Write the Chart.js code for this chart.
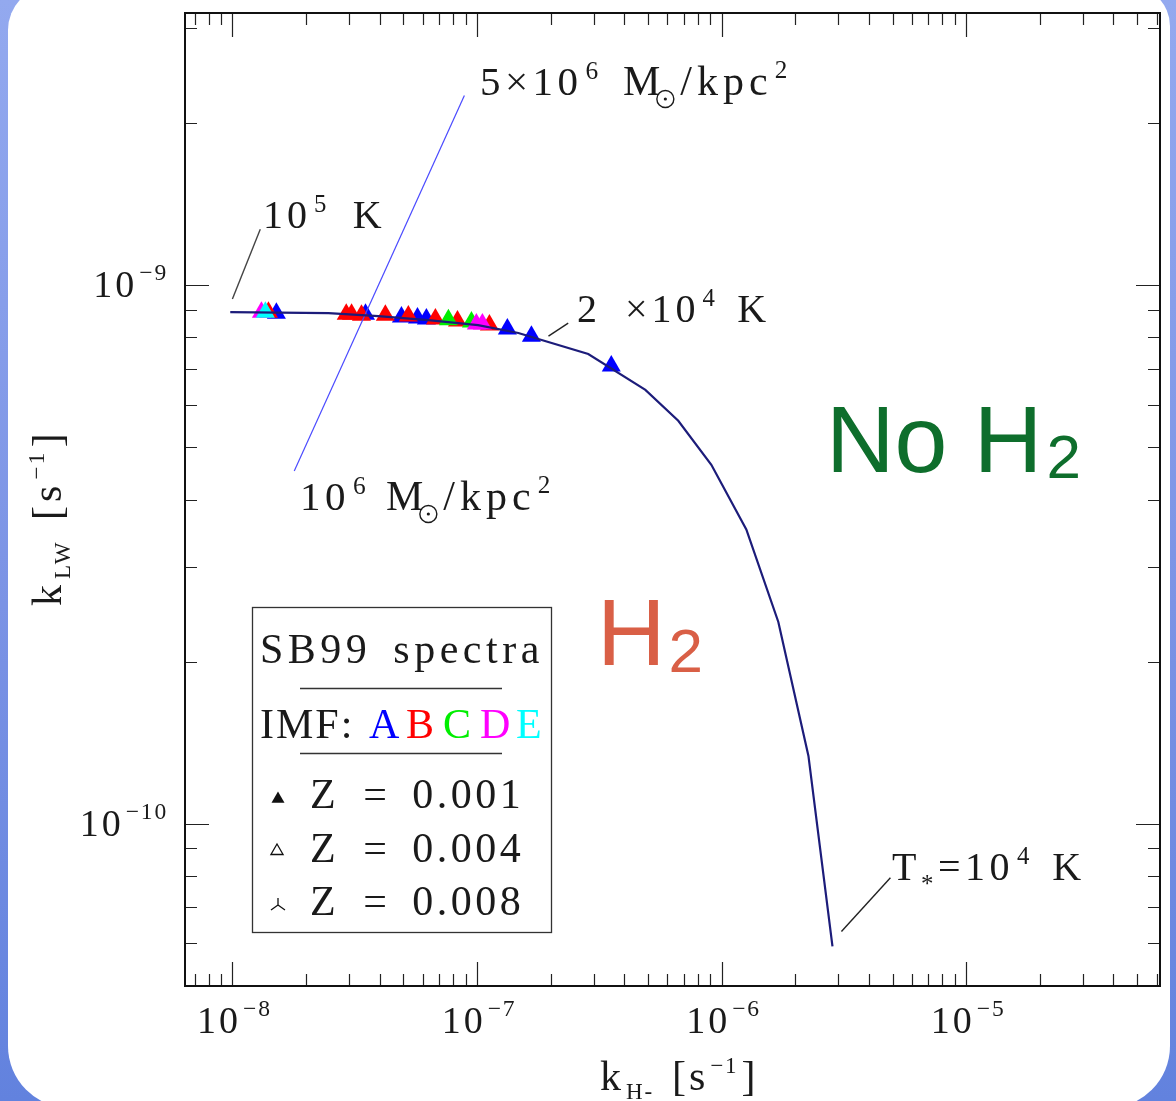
<!DOCTYPE html>
<html><head><meta charset="utf-8">
<script src="https://cdn.jsdelivr.net/npm/chart.js@4.4.0/dist/chart.umd.min.js"></script>
<style>
html,body{margin:0;padding:0;width:1176px;height:1101px;overflow:hidden;}
body{background:linear-gradient(180deg,#93a9ef 0%,#7b93e5 55%,#6282de 100%);position:relative;}
#panel{position:absolute;left:8px;top:-14px;width:1162px;height:1122px;background:#fff;border-radius:44px 40px 62px 62px;}
#wrap{position:absolute;left:0;top:0;width:1176px;height:1101px;}
</style></head><body><div id="panel"></div><div id="wrap"><canvas id="c" width="1176" height="1101"></canvas></div>
<script>
// ---- data ----
const curveX = [9.8e-9, 2.47e-8, 3.95e-8, 6.32e-8, 1.01e-7, 1.476e-7, 2.85e-7, 4.88e-7, 6.65e-7, 9.08e-7, 1.262e-6, 1.706e-6, 2.265e-6, 2.84e-6];
const curveY = [8.91e-10, 8.87e-10, 8.76e-10, 8.61e-10, 8.43e-10, 8.15e-10, 7.45e-10, 6.39e-10, 5.60e-10, 4.64e-10, 3.52e-10, 2.37e-10, 1.337e-10, 5.92e-11];

const imfAX = [1.513e-8, 3.50e-8, 4.91e-8, 5.71e-8, 6.21e-8, 1.331e-7, 1.669e-7, 3.54e-7];
const imfAY = [8.87e-10, 8.83e-10, 8.73e-10, 8.69e-10, 8.65e-10, 8.29e-10, 8.04e-10, 7.08e-10];
const imfBX = [1.404e-8, 2.92e-8, 3.07e-8, 3.37e-8, 4.22e-8, 5.24e-8, 6.76e-8, 8.32e-8, 1.124e-7];
const imfBY = [8.91e-10, 8.83e-10, 8.83e-10, 8.79e-10, 8.79e-10, 8.76e-10, 8.65e-10, 8.58e-10, 8.43e-10];
const imfCX = [7.64e-8, 9.49e-8];
const imfCY = [8.62e-10, 8.54e-10];
const imfDX = [1.314e-8, 9.94e-8, 1.052e-7];
const imfDY = [8.91e-10, 8.47e-10, 8.47e-10];
const imfEX = [1.364e-8];
const imfEY = [8.91e-10];

const surfLineX = [1.79e-8, 8.88e-8];
const surfLineY = [4.52e-10, 2.25e-9];
const lead1X = [1.0e-8, 1.30e-8], lead1Y = [9.42e-10, 1.27e-9];
const lead2X = [1.96e-7, 2.36e-7], lead2Y = [8.04e-10, 8.50e-10];
const lead3X = [3.09e-6, 4.90e-6], lead3Y = [6.31e-11, 7.94e-11];

const xDecades = [-8, -7, -6, -5];   // tick labels 10^-8 ... 10^-5
const yDecades = [-9, -10];          // tick labels 10^-9, 10^-10
const xRange = [6.4e-9, 6.2e-5];
const yRange = [5.0e-11, 3.2e-9];

const imfNames = ['A', 'B', 'C', 'D', 'E'];
const imfColors = ['#0000ff', '#ff0000', '#00ee00', '#ff00ff', '#00ffff'];
const zLabels = ['0.001', '0.004', '0.008'];

// ---- helpers ----
const pts = (xs, ys) => xs.map((x, i) => ({x, y: ys[i]}));
const SERIF = '"Liberation Serif","DejaVu Serif",serif';

function rich(ctx, x, y, segs, size, opt) {
  opt = opt || {};
  const fam = opt.family || SERIF;
  const ls = opt.ls || 0;
  const sc = opt.subScale || 0.62;
  ctx.save();
  ctx.fillStyle = opt.color || '#1a1a1a';
  ctx.textBaseline = 'alphabetic';
  ctx.textAlign = 'left';
  let total = 0;
  const items = segs.map(sg => {
    const [t, k, dx] = sg;
    const s = k === 0 ? size : size * sc;
    const font = (opt.weight || 'normal') + ' ' + s + 'px ' + fam;
    ctx.font = font;
    ctx.letterSpacing = (k === 0 ? ls : ls * 0.6) + 'px';
    const w = ctx.measureText(t).width;
    const it = {t, k, font, w, dx: dx || 0, ls: (k === 0 ? ls : ls * 0.6)};
    total += w + it.dx;
    return it;
  });
  let cx = opt.align === 'right' ? x - total : opt.align === 'center' ? x - total / 2 : x;
  for (const it of items) {
    cx += it.dx;
    ctx.font = it.font;
    ctx.letterSpacing = it.ls + 'px';
    const dy = it.k === 1 ? -size * (opt.supRaise || 0.40) : it.k === -1 ? size * (opt.subDrop || 0.25) : 0;
    ctx.fillText(it.t, cx, y + dy);
    cx += it.w;
  }
  ctx.restore();
  return total;
}

const framePlugin = {
  id: 'frame',
  afterDatasetsDraw(chart) {
    const ctx = chart.ctx, a = chart.chartArea;
    const xs = chart.scales.x, ys = chart.scales.y;
    ctx.save();
    // ticks
    ctx.strokeStyle = '#222';
    ctx.lineWidth = 1.2;
    const majL = 24, minL = 12;
    const tickVals = (min, max) => {
      const out = [];
      for (let e = Math.floor(Math.log10(min)); e <= Math.ceil(Math.log10(max)); e++) {
        for (let m = 1; m <= 9; m++) {
          const v = m * Math.pow(10, e);
          if (v >= min * 0.999 && v <= max * 1.001) out.push({v, major: m === 1});
        }
      }
      return out;
    };
    ctx.beginPath();
    for (const t of tickVals(xs.min, xs.max)) {
      const px = Math.round(xs.getPixelForValue(t.v)) + 0.5;
      const L = t.major ? majL : minL;
      ctx.moveTo(px, a.bottom); ctx.lineTo(px, a.bottom - L);
      ctx.moveTo(px, a.top); ctx.lineTo(px, a.top + L);
    }
    for (const t of tickVals(ys.min, ys.max)) {
      const py = Math.round(ys.getPixelForValue(t.v)) + 0.5;
      const L = t.major ? majL : minL;
      ctx.moveTo(a.left, py); ctx.lineTo(a.left + L, py);
      ctx.moveTo(a.right, py); ctx.lineTo(a.right - L, py);
    }
    ctx.stroke();
    // frame
    ctx.lineWidth = 2;
    ctx.strokeStyle = '#111';
    ctx.strokeRect(a.left, a.top, a.right - a.left, a.bottom - a.top);

    // tick labels
    for (const e of xDecades) {
      const px = xs.getPixelForValue(Math.pow(10, e));
      rich(ctx, px + 2, 1033, [['10', 0], ['\u2212' + (-e), 1, 2]], 38, {align: 'center', ls: 3, subScale: 0.62, supRaise: 0.44});
    }
    for (const e of yDecades) {
      const py = ys.getPixelForValue(Math.pow(10, e));
      rich(ctx, 168, py + 12, [['10', 0], ['\u2212' + (-e), 1, 2]], 38, {align: 'right', ls: 3, subScale: 0.62, supRaise: 0.44});
    }

    // axis titles
    rich(ctx, 600, 1090, [['k', 0], ['H-', -1, 2], ['[s', 0, 18], ['\u22121', 1, 2], [']', 0, 3]], 42, {ls: 3, subScale: 0.55, subDrop: 0.22, supRaise: 0.4});
    ctx.save();
    ctx.translate(61, 606);
    ctx.rotate(-Math.PI / 2);
    rich(ctx, 0, 0, [['k', 0], ['LW', -1, 2], ['[s', 0, 20], ['\u22121', 1, 2], [']', 0, 3]], 42, {ls: 4, subScale: 0.55, subDrop: 0.22, supRaise: 0.4});
    ctx.restore();

    // annotations
    const M = (x, y, s) => { // M with sun subscript
      ctx.save();
      ctx.fillStyle = '#1a1a1a';
      ctx.font = s + 'px ' + SERIF;
      ctx.letterSpacing = '0px';
      ctx.fillText('M', x, y);
      const w = ctx.measureText('M').width;
      ctx.strokeStyle = '#1a1a1a'; ctx.lineWidth = 1.4;
      ctx.beginPath(); ctx.arc(x + w + 5, y + 4, 8.5, 0, Math.PI * 2); ctx.stroke();
      ctx.beginPath(); ctx.arc(x + w + 5, y + 4, 1.6, 0, Math.PI * 2); ctx.fill();
      ctx.restore();
      return w + 18;
    };
    // 5x10^6 Msun/kpc^2
    rich(ctx, 480, 95, [['5\u00d710', 0], ['6', 1, 3]], 41, {ls: 4.5, subScale: 0.62});
    let mw = M(623, 95, 42);
    rich(ctx, 623 + mw + 2, 95, [['/kpc', 0], ['2', 1, 2]], 42, {ls: 5, subScale: 0.6});
    // 10^6 Msun/kpc^2
    rich(ctx, 300, 510, [['10', 0], ['6', 1, 3]], 41, {ls: 4.5, subScale: 0.62});
    mw = M(386, 510, 42);
    rich(ctx, 386 + mw + 2, 510, [['/kpc', 0], ['2', 1, 2]], 42, {ls: 5, subScale: 0.6});
    // 10^5 K
    rich(ctx, 263, 228, [['10', 0], ['5', 1, 3], ['K', 0, 24]], 40, {ls: 4, subScale: 0.62});
    // 2 x10^4 K
    rich(ctx, 577, 322, [['2', 0], ['\u00d710', 0, 24], ['4', 1, 3], ['K', 0, 20]], 40, {ls: 4, subScale: 0.62});
    // T* = 10^4 K
    rich(ctx, 892, 880, [['T', 0], ['*', -1, 0], ['=10', 0, 2], ['4', 1, 3], ['K', 0, 20]], 40, {ls: 4.5, subScale: 0.62, subDrop: 0.3});

    // region labels
    const SANS = '"Liberation Sans","Arial",sans-serif';
    ctx.save();
    ctx.fillStyle = '#0e6e2c';
    ctx.font = '95px ' + SANS;
    ctx.fillText('No H', 826, 472);
    let nw = ctx.measureText('No H').width;
    ctx.font = '62px ' + SANS;
    ctx.fillText('2', 826 + nw + 4, 478);
    ctx.fillStyle = '#d95f46';
    ctx.font = '95px ' + SANS;
    ctx.fillText('H', 597, 665);
    nw = ctx.measureText('H').width;
    ctx.font = '62px ' + SANS;
    ctx.fillText('2', 597 + nw + 3, 672);
    ctx.restore();

    // legend box
    ctx.save();
    ctx.strokeStyle = '#333'; ctx.lineWidth = 1.3;
    ctx.strokeRect(252.5, 607.5, 299, 325);
    ctx.beginPath();
    ctx.moveTo(300, 688.5); ctx.lineTo(502, 688.5);
    ctx.moveTo(300, 753.5); ctx.lineTo(502, 753.5);
    ctx.stroke();
    ctx.restore();
    rich(ctx, 260, 663, [['SB99', 0], ['spectra', 0, 22]], 42, {ls: 4.5});
    rich(ctx, 260, 738, [['IMF:', 0]], 42, {ls: 2});
    const imfX = [369, 406, 443, 480, 516];
    imfNames.forEach((n, i) => rich(ctx, imfX[i], 738, [[n, 0]], 42, {color: imfColors[i]}));
    const rowY = [808, 862, 915];
    zLabels.forEach((z, i) => {
      rich(ctx, 310, rowY[i], [['Z', 0], ['=', 0, 24], [z, 0, 22]], 42, {ls: 3.5});
    });
    // legend markers
    ctx.save();
    ctx.fillStyle = '#111'; ctx.strokeStyle = '#111'; ctx.lineWidth = 1.3;
    const tri = (cx, cy, r) => {
      ctx.beginPath();
      ctx.moveTo(cx, cy - r); ctx.lineTo(cx + r * 0.866, cy + r * 0.5); ctx.lineTo(cx - r * 0.866, cy + r * 0.5); ctx.closePath();
    };
    tri(278, 799, 7.5); ctx.fill();
    tri(277, 851, 7); ctx.stroke();
    ctx.beginPath();
    ctx.moveTo(278, 905); ctx.lineTo(278, 898);
    ctx.moveTo(278, 905); ctx.lineTo(271, 910);
    ctx.moveTo(278, 905); ctx.lineTo(285, 910);
    ctx.stroke();
    ctx.restore();
    ctx.restore();
  }
};

const imfSets = [[imfAX, imfAY], [imfBX, imfBY], [imfCX, imfCY], [imfDX, imfDY], [imfEX, imfEY]];
const datasets = [
  {type: 'line', data: pts(curveX, curveY), borderColor: '#1c1c7a', borderWidth: 2.2, pointRadius: 0, tension: 0, order: 0, fill: false},
  {type: 'line', data: pts(surfLineX, surfLineY), borderColor: '#4a4aff', borderWidth: 1.2, pointRadius: 0, order: 1, fill: false},
  {type: 'line', data: pts(lead1X, lead1Y), borderColor: '#444', borderWidth: 1.4, pointRadius: 0, order: 1, fill: false},
  {type: 'line', data: pts(lead2X, lead2Y), borderColor: '#222', borderWidth: 1.4, pointRadius: 0, order: 1, fill: false},
  {type: 'line', data: pts(lead3X, lead3Y), borderColor: '#222', borderWidth: 1.4, pointRadius: 0, order: 1, fill: false},
];
imfSets.forEach(([xs, ys], i) => {
  datasets.push({type: 'scatter', data: pts(xs, ys), pointStyle: 'triangle', pointRadius: 11, pointBackgroundColor: imfColors[i], pointBorderWidth: 0, borderColor: imfColors[i], order: 6 - i});
});

new Chart(document.getElementById('c'), {
  type: 'scatter',
  data: {datasets},
  options: {
    responsive: false,
    animation: false,
    devicePixelRatio: 1,
    layout: {padding: {left: 185, right: 16, top: 13, bottom: 115}},
    plugins: {legend: {display: false}, tooltip: {enabled: false}},
    scales: {
      x: {type: 'logarithmic', min: xRange[0], max: xRange[1], ticks: {display: false}, grid: {display: false, drawTicks: false}, border: {display: false}},
      y: {type: 'logarithmic', min: yRange[0], max: yRange[1], ticks: {display: false}, grid: {display: false, drawTicks: false}, border: {display: false}}
    }
  },
  plugins: [framePlugin]
});
</script>
</body></html>
